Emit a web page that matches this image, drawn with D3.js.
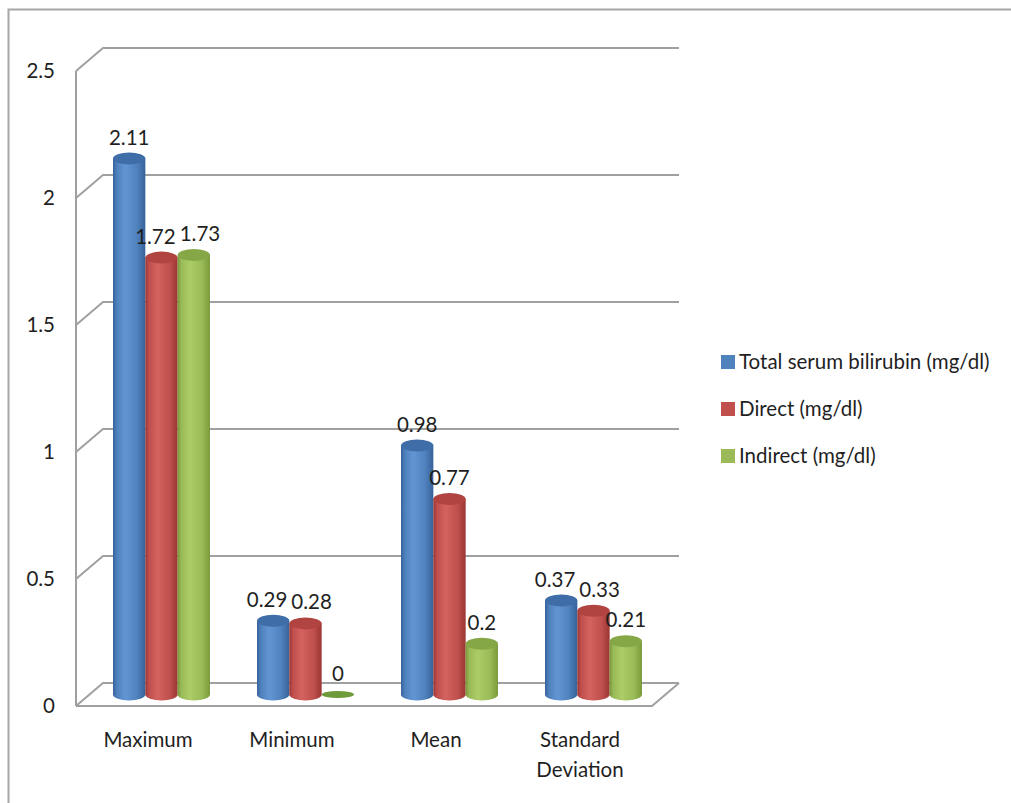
<!DOCTYPE html>
<html>
<head>
<meta charset="utf-8">
<script src="https://cdn.jsdelivr.net/npm/d3@7"></script>
<style>
  html, body { margin: 0; padding: 0; background: #fff; }
  svg { display: block; }
  text { font-family: Lato, "Open Sans", sans-serif; fill: #1f1f1f; }
</style>
</head>
<body>
<svg id="chart" width="1011" height="803"></svg>
<script>
// Bilirubin summary statistics
const categories = ["Maximum", "Minimum", "Mean", "Standard Deviation"];
const seriesNames = ["Total serum bilirubin (mg/dl)", "Direct (mg/dl)", "Indirect (mg/dl)"];
const totalValues = [2.11, 0.29, 0.98, 0.37];
const directValues = [1.72, 0.28, 0.77, 0.33];
const indirectValues = [1.73, 0, 0.2, 0.21];
const tickValues = [0, 0.5, 1, 1.5, 2, 2.5];
const tickLabels = ["0", "0.5", "1", "1.5", "2", "2.5"];

const seriesValues = [totalValues, directValues, indirectValues];
const palette = [
  { base: "#4f81bd", light: "#6295d3", dark: "#36629a", cap: "#3f6da8" },
  { base: "#c0504d", light: "#d4625e", dark: "#9a3633", cap: "#b14340" },
  { base: "#9bbb59", light: "#abcc66", dark: "#7a9a3b", cap: "#86a746" }
];
const fontSize = 20.5;

const svg = d3.select("#chart");

// outer chart frame
svg.append("rect")
  .attr("x", 8.5).attr("y", 9.5)
  .attr("width", 1020).attr("height", 820)
  .attr("fill", "none").attr("stroke", "#a6a6a6").attr("stroke-width", 2);

// 3D box: front plane plus a depth offset for the back wall
const depth = { dx: 27, dy: -23 };
const x = d3.scaleBand().domain(categories).range([76, 652]).paddingInner(0).paddingOuter(0);
const y = d3.scaleLinear().domain([0, 2.5]).range([706, 71]);
const inner = d3.scaleBand().domain(seriesNames).range([-48.5, 48.5]);

const grid = svg.append("g");
const gridColor = "#a0a0a0";
// back wall gridlines with their diagonals on the side wall
tickValues.forEach(v => {
  const yf = y(v);
  grid.append("path")
    .attr("d", `M${x.range()[0]},${yf} L${x.range()[0] + depth.dx},${yf + depth.dy} L${x.range()[1] + depth.dx},${yf + depth.dy}`)
    .attr("fill", "none").attr("stroke", gridColor).attr("stroke-width", 2);
});
// left vertical edge
grid.append("line")
  .attr("x1", x.range()[0]).attr("x2", x.range()[0])
  .attr("y1", y(2.5)).attr("y2", y(0))
  .attr("stroke", gridColor).attr("stroke-width", 2);
// floor outline
grid.append("path")
  .attr("d", `M${x.range()[0]},${y(0)} L${x.range()[1]},${y(0)} L${x.range()[1] + depth.dx},${y(0) + depth.dy}`)
  .attr("fill", "none").attr("stroke", gridColor).attr("stroke-width", 2);

// y tick labels
svg.append("g").selectAll("text")
  .data(tickValues)
  .join("text")
  .attr("x", 55)
  .attr("y", d => y(d))
  .attr("dy", "0.35em")
  .attr("text-anchor", "end")
  .attr("font-size", fontSize)
  .text((d, i) => tickLabels[i]);

// category labels
svg.append("g").selectAll("text")
  .data(categories)
  .join("text")
  .attr("text-anchor", "middle")
  .attr("font-size", fontSize)
  .each(function (d) {
    const words = d.split(" ");
    const t = d3.select(this);
    words.forEach((w, i) => {
      t.append("tspan")
        .attr("x", x(d) + x.bandwidth() / 2)
        .attr("y", 747 + i * 30)
        .text(w);
    });
  });

// cylinder gradients
const defs = svg.append("defs");
palette.forEach((p, i) => {
  const g = defs.append("linearGradient").attr("id", "cyl" + i)
    .attr("x1", "0").attr("x2", "1").attr("y1", "0").attr("y2", "0");
  g.append("stop").attr("offset", "0%").attr("stop-color", p.dark);
  g.append("stop").attr("offset", "12%").attr("stop-color", p.base);
  g.append("stop").attr("offset", "38%").attr("stop-color", p.light);
  g.append("stop").attr("offset", "75%").attr("stop-color", p.base);
  g.append("stop").attr("offset", "100%").attr("stop-color", p.dark);
});

// bars sit halfway into the depth of the box
const mid = { dx: depth.dx / 2, dy: depth.dy / 2 };
const barW = inner.bandwidth();
const rx = barW / 2;
const ry = 6;

const bars = [];
categories.forEach((c, ci) => {
  seriesNames.forEach((s, si) => {
    const v = seriesValues[si][ci];
    const cx = x(c) + x.bandwidth() / 2 + inner(s) + barW / 2 + mid.dx;
    const yBase = y(0) + mid.dy;
    const yTop = y(v) + mid.dy;
    bars.push({ c, s, si, v, cx, yBase, yTop });
  });
});

const barG = svg.append("g");
bars.forEach(b => {
  const g = barG.append("g");
  if (b.v > 0) {
    g.append("path")
      .attr("d", `M${b.cx - rx},${b.yTop} L${b.cx - rx},${b.yBase} A${rx},${ry} 0 0 0 ${b.cx + rx},${b.yBase} L${b.cx + rx},${b.yTop} Z`)
      .attr("fill", `url(#cyl${b.si})`);
  }
  g.append("ellipse")
    .attr("cx", b.cx).attr("cy", b.yTop)
    .attr("rx", rx).attr("ry", b.v > 0 ? ry : 3.5)
    .attr("fill", b.v > 0 ? palette[b.si].cap : "#6f9a3a");
});

// value labels above each cylinder
const fmt = v => String(v);
const labels = svg.append("g").selectAll("text")
  .data(bars)
  .join("text")
  .attr("x", d => d.cx)
  .attr("y", d => d.yTop - 14)
  .attr("text-anchor", "middle")
  .attr("font-size", fontSize)
  .text(d => fmt(d.v));

// spread apart labels in the same group that would collide
labels.each(function (d) {
  d.lx = d.cx;
  d.w = this.getComputedTextLength();
  d.ly = d.yTop - 14;
});
categories.forEach(c => {
  const group = bars.filter(b => b.c === c);
  for (let iter = 0; iter < 5; iter++) {
    for (let i = 0; i < group.length - 1; i++) {
      const a = group[i], b = group[i + 1];
      const vOverlap = Math.abs(a.ly - b.ly) < fontSize;
      const overlap = (a.w / 2 + b.w / 2 + 4) - (b.lx - a.lx);
      if (vOverlap && overlap > 0) {
        a.lx -= overlap / 2;
        b.lx += overlap / 2;
      }
    }
  }
});
labels.attr("x", d => d.lx);

// legend
const legend = svg.append("g").attr("transform", "translate(721,355)");
seriesNames.forEach((s, i) => {
  const row = legend.append("g").attr("transform", `translate(0,${i * 47})`);
  row.append("rect").attr("width", 14).attr("height", 14).attr("fill", palette[i].base);
  row.append("text").attr("x", 18).attr("y", 7).attr("dy", "0.35em")
    .attr("font-size", fontSize).text(s);
});
</script>
</body>
</html>
